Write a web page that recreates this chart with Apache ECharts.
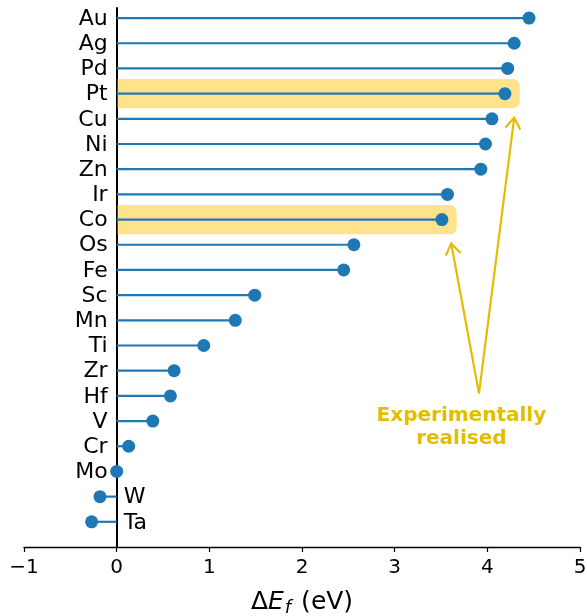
<!DOCTYPE html>
<html>
<head>
<meta charset="utf-8">
<script src="https://cdn.jsdelivr.net/npm/echarts@6/dist/echarts.min.js"></script>
<style>
  html, body { margin: 0; padding: 0; background: #fff; }
  #chart { width: 587px; height: 616px; }
</style>
</head>
<body>
<div id="chart"></div>
<script>
// elements from bottom (index 0) to top
const elements = ["Ta", "W", "Mo", "Cr", "V", "Hf", "Zr", "Ti", "Mn", "Sc", "Fe",
  "Os", "Co", "Ir", "Zn", "Ni", "Cu", "Pt", "Pd", "Ag", "Au"];
const deltaEf = [-0.27, -0.18, 0.0, 0.13, 0.39, 0.58, 0.62, 0.94, 1.28, 1.49, 2.45,
  2.56, 3.51, 3.57, 3.93, 3.98, 4.05, 4.19, 4.22, 4.29, 4.45];
const realised = ["Pt", "Co"];
const xTicks = [-1, 0, 1, 2, 3, 4, 5];

const blue = "#1f77b4";
const gold = "#e3bd00";
const band = "#ffe38c";
const font = "DejaVu Sans";

// annotation anchor points (data coords)
const noteText = [3.72, 3.76];
const arrowStart = [3.91, 5.1];

const chart = echarts.init(document.getElementById("chart"));

const stemData = elements.map((e, i) => [deltaEf[i], i]);
const bandData = realised.map((name) => {
  const i = elements.indexOf(name);
  return [deltaEf[i], i];
});

function arrow(p0, p1) {
  const dx = p1[0] - p0[0], dy = p1[1] - p0[1];
  const len = Math.sqrt(dx * dx + dy * dy);
  const ux = dx / len, uy = dy / len;
  const hl = 11, hw = 7.5;
  const bx = p1[0] - ux * hl, by = p1[1] - uy * hl;
  return [
    { type: "line", shape: { x1: p0[0], y1: p0[1], x2: p1[0], y2: p1[1] },
      style: { stroke: gold, lineWidth: 2.2 } },
    { type: "polyline",
      shape: { points: [[bx - uy * hw, by + ux * hw], p1, [bx + uy * hw, by - ux * hw]] },
      style: { stroke: gold, lineWidth: 2.2, fill: null } },
  ];
}

chart.setOption({
  animation: false,
  grid: { left: 24, right: 7, top: 8, bottom: 69, outerBoundsMode: "none" },
  xAxis: {
    type: "value",
    min: xTicks[0],
    max: xTicks[xTicks.length - 1],
    interval: 1,
    splitLine: { show: false },
    axisLine: { onZero: false, lineStyle: { color: "#000", width: 1.3 } },
    axisTick: { show: true, length: 5, lineStyle: { color: "#000", width: 1.2 } },
    axisLabel: {
      fontSize: 20, color: "#000", fontFamily: font, margin: 11,
      formatter: (v) => (v < 0 ? "\u2212" + Math.abs(v) : String(v)),
    },
    name: "{d|\u0394}{e|E}{s|f}   {d|(eV)}",
    nameLocation: "middle",
    nameGap: 40,
    nameTextStyle: {
      rich: {
        d: { fontSize: 25, color: "#000", fontFamily: font },
        e: { fontSize: 25, color: "#000", fontFamily: font, fontStyle: "italic" },
        s: { fontSize: 18, color: "#000", fontFamily: font, fontStyle: "italic",
             padding: [12, 0, 0, 1] },
      },
    },
  },
  yAxis: {
    type: "value",
    min: -1,
    max: 20.4,
    interval: 1,
    splitLine: { show: false },
    axisLine: { show: true, onZero: true, lineStyle: { color: "#000", width: 2 } },
    axisTick: { show: false },
    axisLabel: { show: false },
  },
  series: [
    {
      type: "custom",
      z: 1,
      data: bandData,
      encode: { x: 0, y: 1 },
      renderItem: (params, api) => {
        const v = api.value(0), i = api.value(1);
        const a = api.coord([0, i + 0.58]);
        const b = api.coord([v + 0.16, i - 0.58]);
        return {
          type: "rect",
          shape: { x: a[0] + 1, y: a[1], width: b[0] - a[0] - 1, height: b[1] - a[1], r: [0, 7, 7, 0] },
          style: { fill: band },
        };
      },
    },
    {
      type: "custom",
      z: 3,
      data: stemData,
      encode: { x: 0, y: 1 },
      renderItem: (params, api) => {
        const v = api.value(0), i = api.value(1);
        const p0 = api.coord([0, i]);
        const p1 = api.coord([v, i]);
        const neg = v < 0;
        return {
          type: "group",
          children: [
            { type: "line", shape: { x1: p0[0], y1: p0[1], x2: p1[0], y2: p1[1] },
              style: { stroke: blue, lineWidth: 2.2 } },
            { type: "circle", shape: { cx: p1[0], cy: p1[1], r: 6.5 }, style: { fill: blue } },
            { type: "text",
              style: { text: elements[i], x: neg ? p0[0] + 7 : p0[0] - 9, y: p0[1] + 1,
                       align: neg ? "left" : "right", verticalAlign: "middle",
                       fontSize: 22, fontFamily: font, fill: "#000" } },
          ],
        };
      },
    },
    {
      type: "custom",
      z: 4,
      data: [0],
      renderItem: (params, api) => {
        const s = api.coord(arrowStart);
        const children = [];
        bandData.forEach(([v, i]) => {
          const tip = api.coord([v + 0.1, i - 0.95]);
          children.push(...arrow(s, tip));
        });
        const t = api.coord(noteText);
        children.push({
          type: "text",
          style: { text: "Experimentally\nrealised", x: t[0], y: t[1], align: "center",
                   verticalAlign: "middle", fontSize: 20, fontWeight: "bold",
                   lineHeight: 23, fontFamily: font, fill: gold },
        });
        return { type: "group", children };
      },
    },
  ],
});
</script>
</body>
</html>
